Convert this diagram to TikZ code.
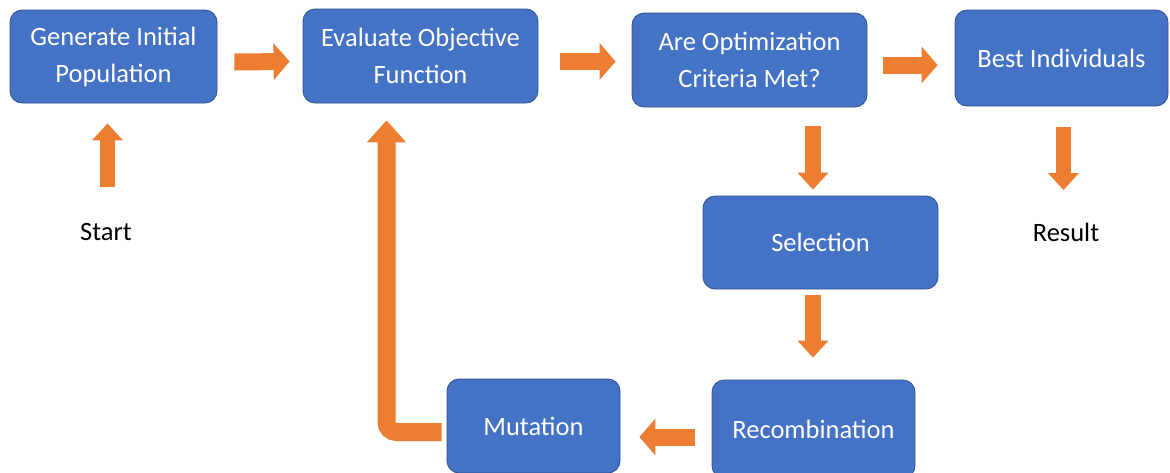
\documentclass[tikz,border=0pt]{standalone}
\usepackage{fontspec}
\setmainfont{Carlito}
\usetikzlibrary{arrows.meta,calc}
\definecolor{boxblue}{HTML}{4472C4}
\definecolor{boxedge}{HTML}{2F528F}
\definecolor{flow}{HTML}{ED7D31}
\tikzset{
  stage/.style={rectangle, rounded corners=12pt, fill=boxblue, draw=boxedge,
    line width=0.8pt, text=white, align=center, inner sep=0pt,
    font=\fontsize{26.5}{37}\selectfont},
  plain/.style={text=black, inner sep=0pt, font=\fontsize{26.5}{37}\selectfont},
  hflow/.style={draw=flow, line width=17pt, -{Triangle[length=16pt,width=36pt]}},
  vflow/.style={draw=flow, line width=15.5pt, -{Triangle[length=17pt,width=30pt]}},
  loopflow/.style={draw=flow, line width=18pt, rounded corners=10pt,
    -{Triangle[length=22pt,width=38pt]}}
}
\begin{document}
\begin{tikzpicture}[x=1pt,y=-1pt]
\useasboundingbox (0,0) rectangle (1170,472);
\begin{scope}
\clip (0,0) rectangle (1170,472);
% process stages
\node[stage, minimum width=207pt, minimum height=93pt] (init) at (113.5,56.5) {Generate Initial\\Population};
\node[stage, minimum width=235pt, minimum height=94pt] (eval) at (420.5,56) {Evaluate Objective\\Function};
\node[stage, minimum width=235pt, minimum height=94pt] (check) at (749.5,60) {Are Optimization\\Criteria Met?};
\node[stage, minimum width=213pt, minimum height=96pt] (best) at (1061.5,58) {Best Individuals};
\node[stage, minimum width=235pt, minimum height=93pt] (sel) at (820.5,242.5) {Selection};
\node[stage, minimum width=203pt, minimum height=98pt] (rec) at (813.5,429) {Recombination};
\node[stage, minimum width=173pt, minimum height=94pt] (mut) at (533.5,426) {Mutation};
% terminals
\node[plain] (start) at (106,232) {Start};
\node[plain] (result) at (1066,232) {Result};
% main flow
\draw[hflow] ([shift={(17,5.5)}]init.east) -- ([shift={(-13,5.5)}]eval.west);
\draw[hflow] ([shift={(22,5.5)}]eval.east) -- ([shift={(-16,1.5)}]check.west);
\draw[hflow] ([shift={(16,5)}]check.east) -- ([shift={(-17,7)}]best.west);
\draw[vflow] ([shift={(1.5,-45)}]start.center) -- ([shift={(-6,20)}]init.south);
\draw[vflow] ([shift={(63.5,19)}]check.south) -- ([shift={(-7.5,-6)}]sel.north);
\draw[vflow] ([shift={(-7.5,6)}]sel.south) -- ([shift={(-0.5,-22)}]rec.north);
\draw[vflow] ([shift={(2,21)}]best.south) -- ([shift={(-2.5,-42)}]result.center);
\draw[hflow] ([shift={(-17,8)}]rec.west) -- ([shift={(19,11)}]mut.east);
% loop back to evaluation
\draw[loopflow] ([shift={(-5,6)}]mut.west) -| ([shift={(-34,17)}]eval.south);
\end{scope}
\end{tikzpicture}
\end{document}
